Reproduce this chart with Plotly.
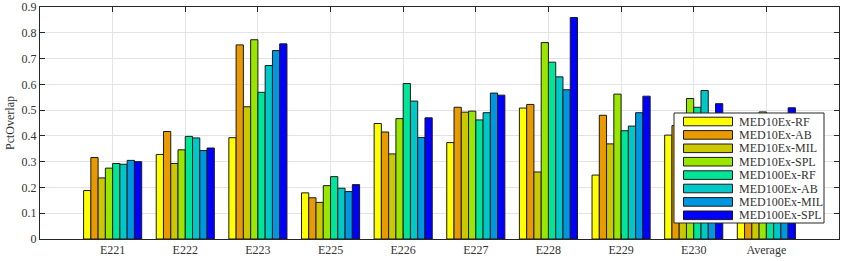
import plotly.graph_objects as go

categories = ["E221", "E222", "E223", "E225", "E226", "E227", "E228", "E229", "E230", "Average"]
series_names = ["MED10Ex-RF", "MED10Ex-AB", "MED10Ex-MIL", "MED10Ex-SPL",
                "MED100Ex-RF", "MED100Ex-AB", "MED100Ex-MIL", "MED100Ex-SPL"]

med10_rf = [0.188, 0.328, 0.393, 0.179, 0.448, 0.374, 0.508, 0.248, 0.403, 0.341]
med10_ab = [0.316, 0.417, 0.753, 0.160, 0.415, 0.511, 0.522, 0.480, 0.440, 0.446]
med10_mil = [0.237, 0.293, 0.513, 0.142, 0.330, 0.492, 0.260, 0.369, 0.380, 0.335]
med10_spl = [0.275, 0.346, 0.773, 0.207, 0.467, 0.496, 0.762, 0.562, 0.545, 0.493]
med100_rf = [0.293, 0.398, 0.569, 0.242, 0.603, 0.462, 0.686, 0.420, 0.511, 0.465]
med100_ab = [0.290, 0.392, 0.673, 0.197, 0.535, 0.490, 0.629, 0.438, 0.576, 0.469]
med100_mil = [0.305, 0.343, 0.731, 0.184, 0.394, 0.566, 0.579, 0.490, 0.460, 0.450]
med100_spl = [0.300, 0.353, 0.757, 0.211, 0.470, 0.558, 0.859, 0.554, 0.525, 0.509]

colors = ["#FFFF00", "#E89A00", "#CCC800", "#99E600",
          "#00E699", "#00C8C8", "#0096E0", "#0000FF"]

y_ticks = [0, 0.1, 0.2, 0.3, 0.4, 0.5, 0.6, 0.7, 0.8, 0.9]
y_tick_text = ["0", "0.1", "0.2", "0.3", "0.4", "0.5", "0.6", "0.7", "0.8", "0.9"]

all_series = [med10_rf, med10_ab, med10_mil, med10_spl,
              med100_rf, med100_ab, med100_mil, med100_spl]

FONT = "Liberation Serif, Times New Roman, serif"
TXT = "#333333"
W, H = 844, 261
ML, MR, MT, MB = 40, 5, 7, 22

fig = go.Figure()
for name, vals, col in zip(series_names, all_series, colors):
    fig.add_trace(go.Bar(
        x=categories, y=vals, name=name,
        marker=dict(color=col, line=dict(color="#1a1a1a", width=1)),
    ))

fig.update_layout(
    width=W, height=H,
    margin=dict(l=ML, r=MR, t=MT, b=MB, autoexpand=False),
    barmode="group", bargap=0.2, bargroupgap=0.0,
    plot_bgcolor="white", paper_bgcolor="white",
    showlegend=False,
    font=dict(family=FONT, size=12, color=TXT),
)
fig.update_xaxes(
    type="category", range=[-1, 10], automargin=False, ticklabeloverflow="allow",
    showgrid=True, gridcolor="#e3e3e3", gridwidth=1,
    showline=True, linecolor="#262626", linewidth=1, mirror="allticks",
    ticks="inside", ticklen=5, tickcolor="#262626",
    tickfont=dict(family=FONT, size=12, color=TXT),
)
fig.update_yaxes(
    range=[0, 0.9], tickvals=y_ticks, ticktext=y_tick_text, automargin=False,
    ticklabeloverflow="allow",
    showgrid=True, gridcolor="#e3e3e3", gridwidth=1,
    showline=True, linecolor="#262626", linewidth=1, mirror="allticks",
    ticks="inside", ticklen=5, tickcolor="#262626",
    tickfont=dict(family=FONT, size=12, color=TXT),
    title=dict(text="PctOverlap", font=dict(family=FONT, size=12, color=TXT), standoff=4),
    zeroline=False,
)

# custom legend (MATLAB style), in paper coordinates
pw = W - ML - MR
ph = H - MT - MB
def px(xpix):
    return (xpix - ML) / pw
def py(ypix):
    return 1 - (ypix - MT) / ph

box_l, box_r, box_t, box_b = 674, 824, 113, 223
fig.add_shape(type="rect", xref="paper", yref="paper",
              x0=px(box_l), x1=px(box_r), y0=py(box_b), y1=py(box_t),
              fillcolor="white", line=dict(color="#262626", width=1), layer="above")
row0 = 121.5
step = 13.4
for i, (name, col) in enumerate(zip(series_names, colors)):
    yc = row0 + i * step
    fig.add_shape(type="rect", xref="paper", yref="paper",
                  x0=px(683.5), x1=px(732.5), y0=py(yc + 4.3), y1=py(yc - 4.3),
                  fillcolor=col, line=dict(color="#1a1a1a", width=1), layer="above")
    fig.add_annotation(xref="paper", yref="paper", x=px(737), y=py(yc),
                       text=name, showarrow=False, xanchor="left", yanchor="middle",
                       font=dict(family=FONT, size=12, color=TXT))

fig.write_html("out.html", config={"displayModeBar": False},
               post_script="document.body.style.margin='0';document.body.style.overflow='hidden';")
